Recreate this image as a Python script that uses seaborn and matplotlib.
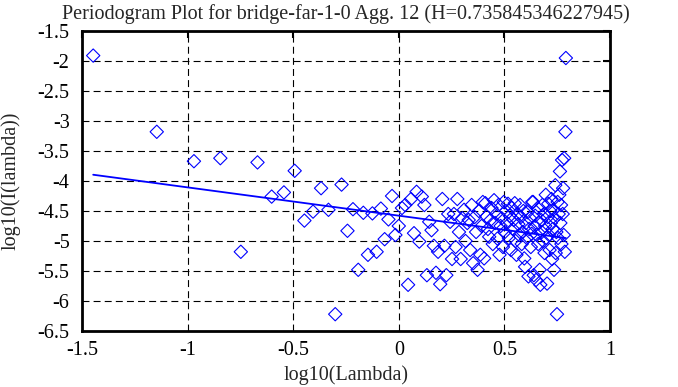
import matplotlib
matplotlib.use("Agg")
import matplotlib.pyplot as plt
import seaborn as sns
import pandas as pd

# ---- data ----
log_lambda = [
    -1.447, -1.146, -0.970, -0.845, -0.748, -0.669, -0.602, -0.544, -0.493, -0.447,
    -0.406, -0.368, -0.333, -0.301, -0.271, -0.243, -0.217, -0.192, -0.168, -0.146,
    -0.125, -0.105, -0.085, -0.067, -0.049, -0.032, -0.016, 0.000, 0.015, 0.030,
    0.044, 0.058, 0.072, 0.084, 0.097, 0.109, 0.121, 0.133, 0.144, 0.155,
    0.166, 0.176, 0.186, 0.196, 0.206, 0.216, 0.225, 0.234, 0.243, 0.252,
    0.261, 0.269, 0.277, 0.285, 0.293, 0.301, 0.309, 0.316, 0.324, 0.331,
    0.338, 0.345, 0.352, 0.359, 0.366, 0.373, 0.379, 0.386, 0.392, 0.398,
    0.404, 0.410, 0.416, 0.422, 0.428, 0.434, 0.439, 0.445, 0.451, 0.456,
    0.461, 0.467, 0.472, 0.477, 0.482, 0.487, 0.493, 0.497, 0.502, 0.507,
    0.512, 0.517, 0.521, 0.526, 0.531, 0.535, 0.540, 0.544, 0.549, 0.553,
    0.557, 0.562, 0.566, 0.570, 0.574, 0.578, 0.582, 0.586, 0.590, 0.594,
    0.598, 0.602, 0.606, 0.610, 0.614, 0.617, 0.621, 0.625, 0.629, 0.632,
    0.636, 0.639, 0.643, 0.646, 0.650, 0.653, 0.657, 0.660, 0.664, 0.667,
    0.670, 0.674, 0.677, 0.680, 0.683, 0.687, 0.690, 0.693, 0.696, 0.699,
    0.702, 0.705, 0.708, 0.711, 0.714, 0.717, 0.720, 0.723, 0.726, 0.729,
    0.732, 0.735, 0.738, 0.741, 0.743, 0.746, 0.749, 0.752, 0.754, 0.757,
    0.760, 0.763, 0.765, 0.768, 0.770, 0.773, 0.776, 0.778, 0.781, 0.783,
    0.786, 0.789, 0.791,
]
log_power = [
    -1.91, -3.18, -3.67, -3.62, -5.18, -3.69, -4.26, -4.19, -3.83, -4.66,
    -4.51, -4.12, -4.48, -6.22, -4.06, -4.83, -4.47, -5.48, -4.53, -5.23,
    -4.54, -5.18, -4.46, -4.97, -4.64, -4.25, -4.90, -4.75, -4.45, -4.40,
    -5.73, -4.30, -4.87, -4.18, -5.01, -4.26, -4.40, -5.57, -4.68, -4.82,
    -5.08, -5.53, -5.18, -5.72, -4.30, -5.08, -5.57, -4.55, -4.68, -5.30,
    -4.55, -5.10, -4.30, -4.85, -5.30, -4.62, -4.48, -5.00, -4.70, -4.65,
    -5.15, -4.40, -5.37, -4.60, -4.85, -5.48, -4.50, -5.23, -4.75, -4.35,
    -5.29, -4.37, -4.59, -4.80, -4.93, -4.65, -4.45, -5.05, -4.32, -4.70,
    -4.55, -4.96, -4.40, -5.23, -4.75, -4.62, -5.10, -4.35, -4.85, -4.50,
    -4.70, -4.38, -4.95, -4.58, -5.15, -4.45, -4.80, -4.65, -4.37, -5.00,
    -5.23, -4.55, -4.72, -4.90, -4.40, -4.60, -5.05, -4.85, -4.50, -5.29,
    -5.43, -4.70, -4.95, -4.52, -5.59, -4.80, -4.62, -5.10, -4.88, -4.35,
    -4.35, -5.57, -4.75, -4.58, -5.65, -4.90, -4.45, -5.05, -4.70, -5.48,
    -5.73, -4.65, -4.85, -4.40, -5.00, -4.55, -5.20, -4.75, -4.23, -4.95,
    -5.71, -4.60, -4.38, -4.90, -5.15, -4.50, -4.70, -4.30, -5.30, -4.80,
    -4.48, -5.48, -4.62, -4.07, -5.20, -4.85, -6.22, -4.35, -4.95, -4.55,
    -4.23, -3.84, -4.70, -4.40, -5.05, -3.65, -4.55, -4.12, -4.90, -3.62,
    -5.18, -3.18, -1.95,
]
H = 0.735845346227945
fit_slope = 1 - 2 * H
fit_intercept = -4.578

x_ticks = [-1.5, -1, -0.5, 0, 0.5, 1]
x_tick_labels = ["-1.5", "-1", "-0.5", "0", "0.5", "1"]
y_ticks = [-6.5, -6, -5.5, -5, -4.5, -4, -3.5, -3, -2.5, -2, -1.5]
y_tick_labels = ["-6.5", "-6", "-5.5", "-5", "-4.5", "-4", "-3.5", "-3", "-2.5", "-2", "-1.5"]

title = "Periodogram Plot for bridge-far-1-0 Agg. 12 (H=0.735845346227945)"
x_label = "log10(Lambda)"
y_label = "log10(I(lambda))"

# ---- styling ----
sns.set_style("white")
plt.rcParams["font.family"] = ["Liberation Serif", "DejaVu Serif"]
plt.rcParams["axes.unicode_minus"] = False
plt.rcParams["lines.scale_dashes"] = False

FS = 14.5

df = pd.DataFrame({"x": log_lambda, "y": log_power})
xs = [min(log_lambda), max(log_lambda)]
line_df = pd.DataFrame({"x": xs, "y": [fit_intercept + fit_slope * v for v in xs]})

fig = plt.figure(figsize=(6.78, 3.87), dpi=100)
ax = fig.add_axes([82 / 678, 1 - 331 / 387, (610 - 82) / 678, (331 - 31) / 387])

ax.set_axisbelow(True)
ax.grid(True, color="black", linestyle=(0, (5, 3)), linewidth=0.8)

sns.scatterplot(data=df, x="x", y="y", ax=ax, marker="D", s=46,
                facecolors="none", edgecolor="#0000ff", linewidth=0.8, zorder=3)
sns.lineplot(data=line_df, x="x", y="y", ax=ax, color="#0000ff", linewidth=1.3, zorder=4)

ax.set_xlim(-1.5, 1)
ax.set_ylim(-6.5, -1.5)
ax.set_xticks(x_ticks)
ax.set_xticklabels(x_tick_labels)
ax.set_yticks(y_ticks)
ax.set_yticklabels(y_tick_labels)
ax.tick_params(direction="in", length=5, width=1.5, top=True, right=True,
               labelsize=FS, colors="black")
ax.tick_params(axis="x", pad=7)
ax.tick_params(axis="y", pad=9)

for sp in ax.spines.values():
    sp.set_linewidth(2)
    sp.set_color("black")

ax.set_title(title, fontsize=FS, pad=9)
ax.set_xlabel(x_label, fontsize=FS, labelpad=4)
ax.set_ylabel(y_label, fontsize=FS, labelpad=12)

fig.savefig("out.png", dpi=100)
